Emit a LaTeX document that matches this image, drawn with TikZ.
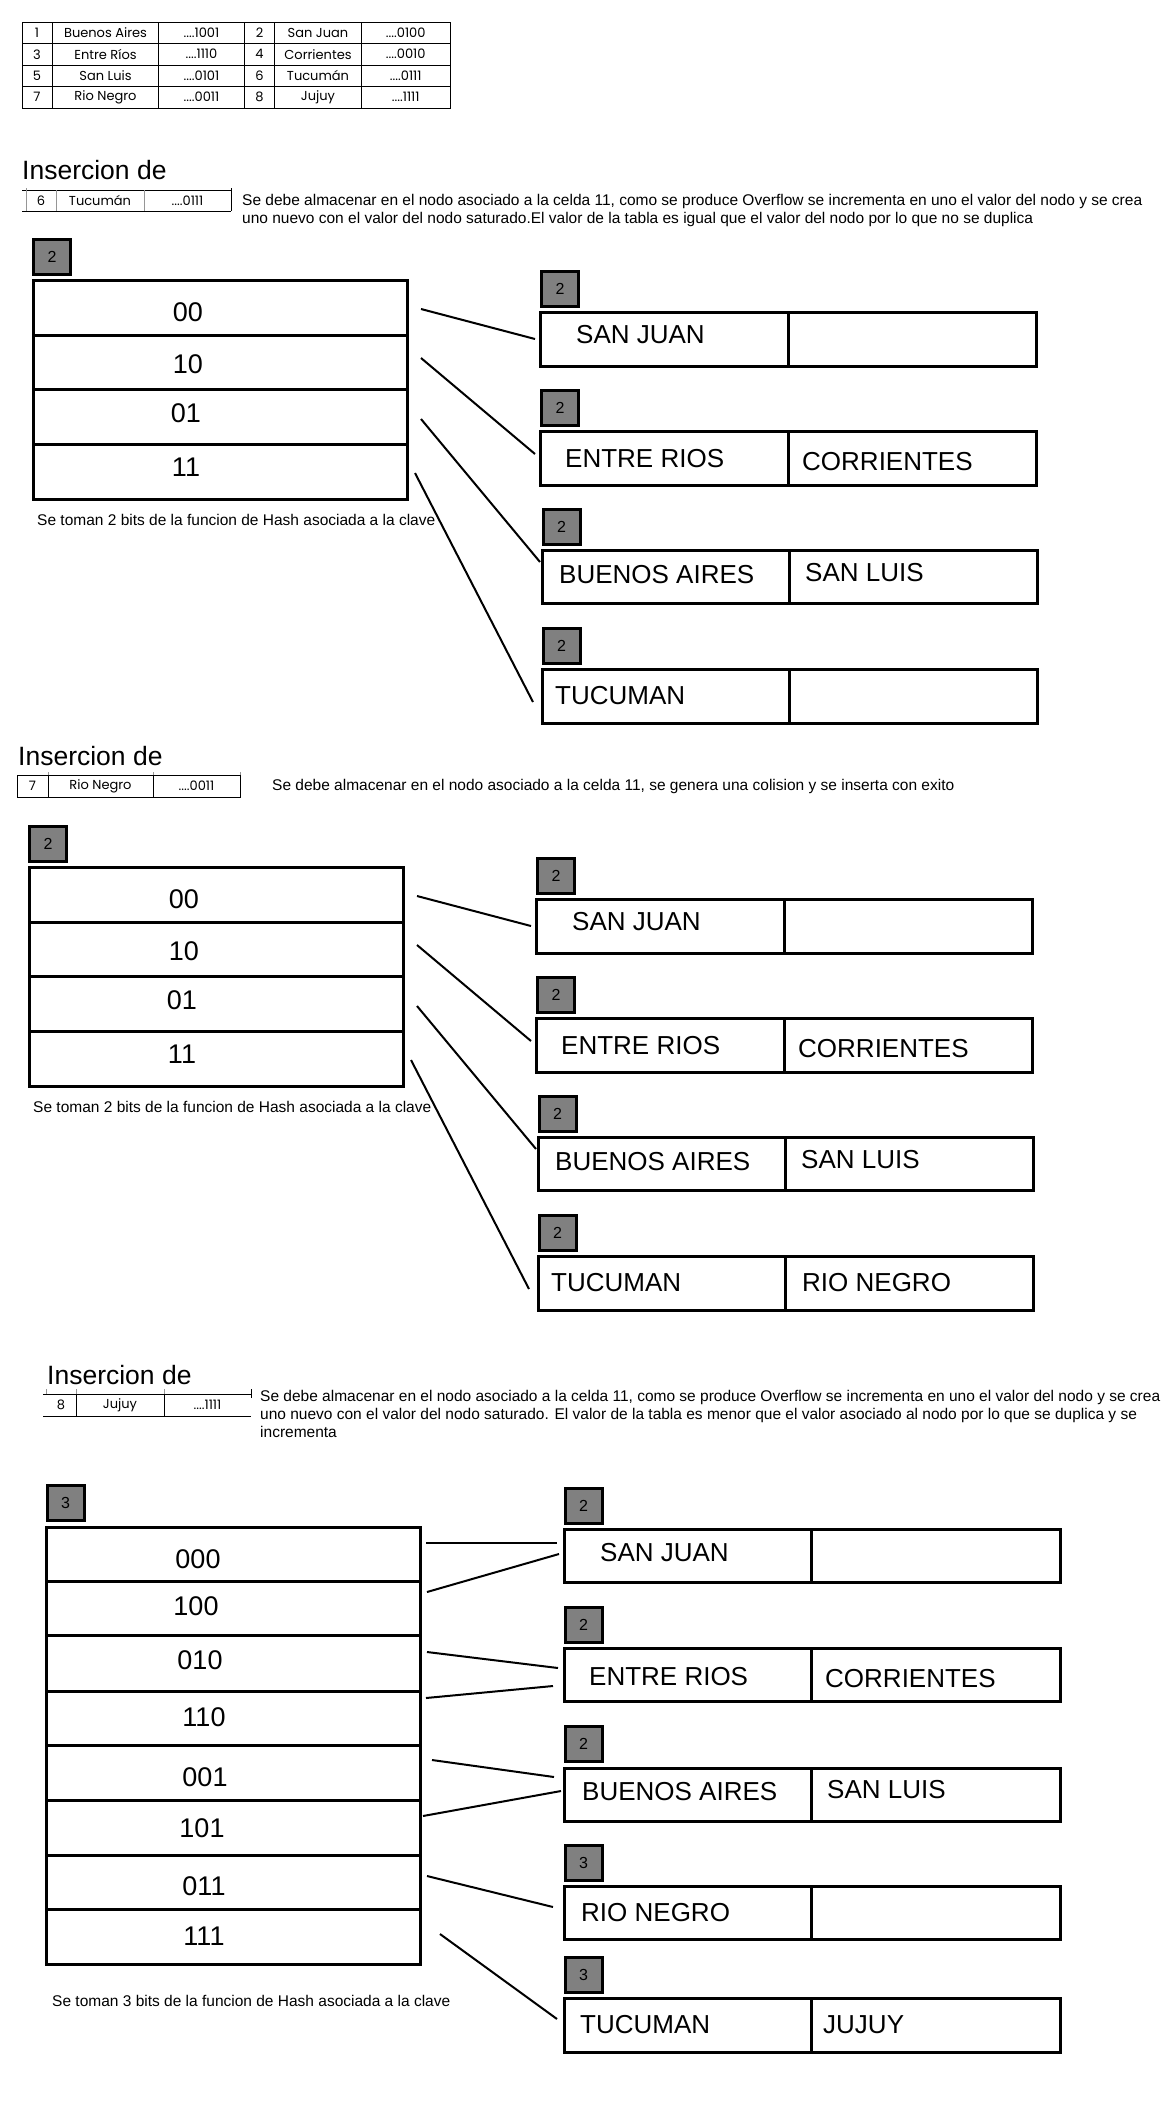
\documentclass[tikz,border=0pt]{standalone}
\usepackage{fontspec}
\setmainfont{Liberation Sans}
\newfontfamily\tabfont{Poppins}
\begin{document}
\begin{tikzpicture}[x=1pt,y=-1pt,
    lvlbox/.style={draw, line width=3pt, fill={rgb,255:red,128;green,128;blue,128}, minimum width=37pt, minimum height=35pt, inner sep=0pt, font=\fontsize{16}{16}\selectfont},
    frame/.style={line width=3pt},
    link/.style={line width=2pt},
    rule/.style={line width=1pt},
    tick/.style={line width=1pt, draw={rgb,255:red,150;green,150;blue,150}},
    cell/.style={inner sep=0pt, font=\tabfont\fontsize{13}{13}\selectfont},
    dirlabel/.style={inner sep=0pt, font=\fontsize{27}{27}\selectfont},
    keylabel/.style={anchor=west, inner sep=0pt, font=\fontsize{26}{26}\selectfont},
    title/.style={anchor=base west, inner sep=0pt, font=\fontsize{26.5}{26.5}\selectfont},
    note/.style={anchor=base west, inner sep=0pt, align=left, font=\fontsize{15.5}{18}\selectfont},
    ]
    \useasboundingbox (0,0) rectangle (1168,2105);

    %Table of keys
    \draw [rule] (22,22) rectangle (450,108);
    \draw [rule] (22,43.5) -- (450,43.5) (22,65) -- (450,65) (22,86.5) -- (450,86.5);
    \draw [rule] (52.5,22) -- (52.5,108) (158.5,22) -- (158.5,108) (244.5,22) -- (244.5,108) (274.5,22) -- (274.5,108) (361.5,22) -- (361.5,108);
    % Text Node
    \node [cell] (n1) at (37,32.75) {1};
    \node [cell] (k1) at (105.5,32.75) {Buenos Aires};
    \node [cell] (h1) at (201.5,32.75) {....1001};
    \node [cell] (n2) at (259.5,32.75) {2};
    \node [cell] (k2) at (318,32.75) {San Juan};
    \node [cell] (h2) at (405.75,32.75) {....0100};
    \node [cell] (n3) at (37,54.25) {3};
    \node [cell] (k3) at (105.5,54.25) {Entre Ríos};
    \node [cell] (h3) at (201.5,54.25) {....1110};
    \node [cell] (n4) at (259.5,54.25) {4};
    \node [cell] (k4) at (318,54.25) {Corrientes};
    \node [cell] (h4) at (405.75,54.25) {....0010};
    \node [cell] (n5) at (37,75.75) {5};
    \node [cell] (k5) at (105.5,75.75) {San Luis};
    \node [cell] (h5) at (201.5,75.75) {....0101};
    \node [cell] (n6) at (259.5,75.75) {6};
    \node [cell] (k6) at (318,75.75) {Tucumán};
    \node [cell] (h6) at (405.75,75.75) {....0111};
    \node [cell] (n7) at (37,97.25) {7};
    \node [cell] (k7) at (105.5,97.25) {Rio Negro};
    \node [cell] (h7) at (201.5,97.25) {....0011};
    \node [cell] (n8) at (259.5,97.25) {8};
    \node [cell] (k8) at (318,97.25) {Jujuy};
    \node [cell] (h8) at (405.75,97.25) {....1111};

    %%%%% Insercion de Tucuman
    \node [title] (ins1) at (22,179) {Insercion de};
    \draw [rule] (22,190) -- (231,190) (22,211) -- (231,211);
    \draw [tick] (26,188) -- (26,211) (56,190) -- (56,211) (144,190) -- (144,211);
    \draw [rule] (231,188) -- (231,211);
    \node [cell] (in1n) at (41,200.5) {6};
    \node [cell] (in1k) at (100,200.5) {Tucumán};
    \node [cell] (in1h) at (187.5,200.5) {....0111};
    \node [note] (txt1) at (242,223) {Se debe almacenar en el nodo asociado a la celda 11, como se produce Overflow se incrementa en uno el valor del nodo y se crea\\uno nuevo con el valor del nodo saturado.El valor de la tabla es igual que el valor del nodo por lo que no se duplica};

    %Directory
    \node [lvlbox] (lvdir1) at (52,257) {2};
    \draw [frame] (33.5,280) rectangle (407,499);
    \draw [frame] (33.5,335) -- (407,335) (33.5,389) -- (407,389) (33.5,444) -- (407,444);
    \node [dirlabel] (d00) at (188,312) {00};
    \node [dirlabel] (d10) at (188,364) {10};
    \node [dirlabel] (d01) at (186,413) {01};
    \node [dirlabel] (d11) at (186,467) {11};
    \node [note] (cap1) at (37,525) {Se toman 2 bits de la funcion de Hash asociada a la clave};

    %Buckets
    \node [lvlbox] (lvsj1) at (560,288.5) {2};
    \draw [frame] (540,312) rectangle (788,366) (788,312) rectangle (1036,366);
    \node [keylabel] (sj1) at (576,335) {SAN JUAN};
    \node [lvlbox] (lver1) at (560,408) {2};
    \draw [frame] (540,431) rectangle (788,485) (788,431) rectangle (1036,485);
    \node [keylabel] (er1) at (565,459) {ENTRE RIOS};
    \node [keylabel] (co1) at (802,462) {CORRIENTES};
    \node [lvlbox] (lvba1) at (561.5,527) {2};
    \draw [frame] (542,550) rectangle (789,603) (789,550) rectangle (1037,603);
    \node [keylabel] (ba1) at (559,575) {BUENOS AIRES};
    \node [keylabel] (sl1) at (805,573) {SAN LUIS};
    \node [lvlbox] (lvtu1) at (561.5,646) {2};
    \draw [frame] (542,669) rectangle (789,723) (789,669) rectangle (1037,723);
    \node [keylabel] (tu1) at (555,696) {TUCUMAN};

    %Links
    \coordinate (r00) at (421,309);  \coordinate (t00) at (535,339);
    \coordinate (r10) at (421,358);  \coordinate (t10) at (535,454);
    \coordinate (r01) at (421,419);  \coordinate (t01) at (540,562);
    \coordinate (r11) at (415,473);  \coordinate (t11) at (533,702);
    \draw [link] (r00) -- (t00);
    \draw [link] (r10) -- (t10);
    \draw [link] (r01) -- (t01);
    \draw [link] (r11) -- (t11);

    %%%%% Insercion de Rio Negro
    \node [title] (ins2) at (18,765) {Insercion de};
    \draw [rule] (17,775) rectangle (240,797);
    \draw [rule] (48,775) -- (48,797) (153,775) -- (153,797);
    \draw [tick] (48,772) -- (48,775) (153,772) -- (153,775) (240,772) -- (240,775);
    \node [cell] (in2n) at (32.5,786) {7};
    \node [cell] (in2k) at (100.5,786) {Rio Negro};
    \node [cell] (in2h) at (196.5,786) {....0011};
    \node [note] (txt2) at (272,790) {Se debe almacenar en el nodo asociado a la celda 11, se genera una colision y se inserta con exito};

    \begin{scope}[shift={(-4,587)}]
    %Directory
    \node [lvlbox] (lvdir2) at (52,257) {2};
    \draw [frame] (33.5,280) rectangle (407,499);
    \draw [frame] (33.5,335) -- (407,335) (33.5,389) -- (407,389) (33.5,444) -- (407,444);
    \node [dirlabel] (s2d00) at (188,312) {00};
    \node [dirlabel] (s2d10) at (188,364) {10};
    \node [dirlabel] (s2d01) at (186,413) {01};
    \node [dirlabel] (s2d11) at (186,467) {11};
    \node [note] (cap2) at (37,525) {Se toman 2 bits de la funcion de Hash asociada a la clave};

    %Buckets
    \node [lvlbox] (lvsj2) at (560,288.5) {2};
    \draw [frame] (540,312) rectangle (788,366) (788,312) rectangle (1036,366);
    \node [keylabel] (sj2) at (576,335) {SAN JUAN};
    \node [lvlbox] (lver2) at (560,408) {2};
    \draw [frame] (540,431) rectangle (788,485) (788,431) rectangle (1036,485);
    \node [keylabel] (er2) at (565,459) {ENTRE RIOS};
    \node [keylabel] (co2) at (802,462) {CORRIENTES};
    \node [lvlbox] (lvba2) at (561.5,527) {2};
    \draw [frame] (542,550) rectangle (789,603) (789,550) rectangle (1037,603);
    \node [keylabel] (ba2) at (559,575) {BUENOS AIRES};
    \node [keylabel] (sl2) at (805,573) {SAN LUIS};
    \node [lvlbox] (lvtu2) at (561.5,646) {2};
    \draw [frame] (542,669) rectangle (789,723) (789,669) rectangle (1037,723);
    \node [keylabel] (tu2) at (555,696) {TUCUMAN};
    \node [keylabel] (rn2) at (806,696) {RIO NEGRO};

    %Links
    \coordinate (s2r00) at (421,309);  \coordinate (s2t00) at (535,339);
    \coordinate (s2r10) at (421,358);  \coordinate (s2t10) at (535,454);
    \coordinate (s2r01) at (421,419);  \coordinate (s2t01) at (540,562);
    \coordinate (s2r11) at (415,473);  \coordinate (s2t11) at (533,702);
    \draw [link] (s2r00) -- (s2t00);
    \draw [link] (s2r10) -- (s2t10);
    \draw [link] (s2r01) -- (s2t01);
    \draw [link] (s2r11) -- (s2t11);
    \end{scope}

    %%%%% Insercion de Jujuy
    \node [title] (ins3) at (47,1384) {Insercion de};
    \draw [rule] (43,1394) -- (251,1394) (43,1416) -- (251,1416);
    \draw [rule] (76,1394) -- (76,1416) (164,1394) -- (164,1416) (251,1389) -- (251,1398);
    \draw [tick] (46,1389) -- (46,1394) (76,1389) -- (76,1394) (164,1389) -- (164,1394);
    \node [cell] (in3n) at (61,1405) {8};
    \node [cell] (in3k) at (120,1405) {Jujuy};
    \node [cell] (in3h) at (207.5,1405) {....1111};
    \node [note] (txt3) at (260,1437) {Se debe almacenar en el nodo asociado a la celda 11, como se produce Overflow se incrementa en uno el valor del nodo y se crea\\uno nuevo con el valor del nodo saturado. El valor de la tabla es menor que el valor asociado al nodo por lo que se duplica y se\\incrementa};

    %Directory
    \node [lvlbox] (lvdir3) at (65.5,1503) {3};
    \draw [frame] (46,1527) rectangle (420,1964);
    \draw [frame] (46,1581) -- (420,1581) (46,1635) -- (420,1635) (46,1691) -- (420,1691) (46,1745) -- (420,1745) (46,1800) -- (420,1800) (46,1855) -- (420,1855) (46,1909) -- (420,1909);
    \node [dirlabel] (d000) at (198,1559) {000};
    \node [dirlabel] (d100) at (196,1606) {100};
    \node [dirlabel] (d010) at (200,1660) {010};
    \node [dirlabel] (d110) at (204,1717) {110};
    \node [dirlabel] (d001) at (205,1777) {001};
    \node [dirlabel] (d101) at (202,1828) {101};
    \node [dirlabel] (d011) at (204,1886) {011};
    \node [dirlabel] (d111) at (204,1936) {111};
    \node [note] (cap3) at (52,2006) {Se toman 3 bits de la funcion de Hash asociada a la clave};

    %Buckets
    \node [lvlbox] (lvsj3) at (583.5,1505.5) {2};
    \draw [frame] (564,1529) rectangle (811,1582) (811,1529) rectangle (1060,1582);
    \node [keylabel] (sj3) at (600,1553) {SAN JUAN};
    \node [lvlbox] (lver3) at (583.5,1624.5) {2};
    \draw [frame] (564,1648) rectangle (811,1701) (811,1648) rectangle (1060,1701);
    \node [keylabel] (er3) at (589,1677) {ENTRE RIOS};
    \node [keylabel] (co3) at (825,1679) {CORRIENTES};
    \node [lvlbox] (lvba3) at (583.5,1744) {2};
    \draw [frame] (564,1768) rectangle (811,1821) (811,1768) rectangle (1060,1821);
    \node [keylabel] (ba3) at (582,1792) {BUENOS AIRES};
    \node [keylabel] (sl3) at (827,1790) {SAN LUIS};
    \node [lvlbox] (lvrn3) at (583.5,1863) {3};
    \draw [frame] (564,1886) rectangle (811,1939) (811,1886) rectangle (1060,1939);
    \node [keylabel] (rn3) at (581,1913) {RIO NEGRO};
    \node [lvlbox] (lvtu3) at (583.5,1974.5) {3};
    \draw [frame] (564,1998) rectangle (811,2052) (811,1998) rectangle (1060,2052);
    \node [keylabel] (tu3) at (580,2025) {TUCUMAN};
    \node [keylabel] (ju3) at (823,2025) {JUJUY};

    %Links
    \coordinate (r000) at (426,1543);  \coordinate (t000) at (557,1543);
    \coordinate (r100) at (427,1592);  \coordinate (t100) at (559,1554);
    \coordinate (r010) at (427,1652);  \coordinate (t010) at (558,1668);
    \coordinate (r110) at (426,1698);  \coordinate (t110) at (553,1686);
    \coordinate (r001) at (432,1760);  \coordinate (t001) at (554,1777);
    \coordinate (r101) at (423,1816);  \coordinate (t101) at (561,1791);
    \coordinate (r011) at (427,1876);  \coordinate (t011) at (553,1907);
    \coordinate (r111) at (440,1934);  \coordinate (t111) at (557,2019);
    \draw [link] (r000) -- (t000);
    \draw [link] (r100) -- (t100);
    \draw [link] (r010) -- (t010);
    \draw [link] (r110) -- (t110);
    \draw [link] (r001) -- (t001);
    \draw [link] (r101) -- (t101);
    \draw [link] (r011) -- (t011);
    \draw [link] (r111) -- (t111);
\end{tikzpicture}
\end{document}
